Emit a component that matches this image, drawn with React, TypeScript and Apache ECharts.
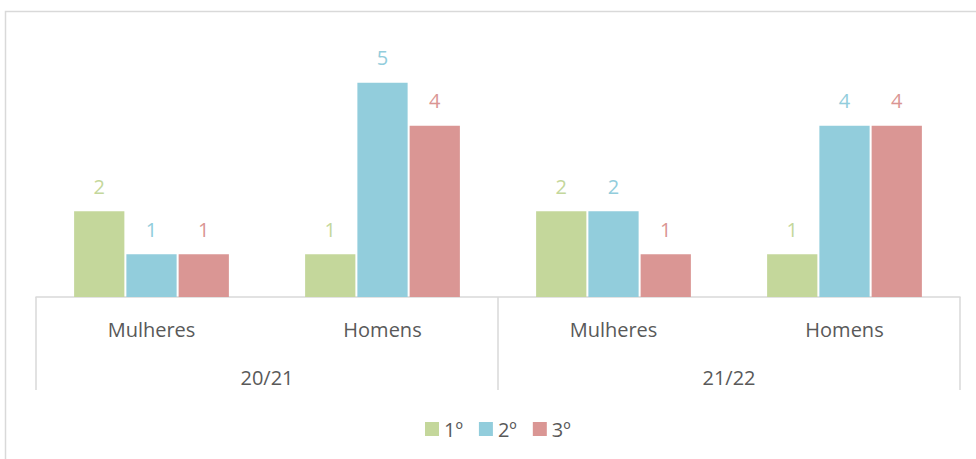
import React, { useEffect, useRef } from "react";
import * as echarts from "echarts";

const subCategories = ["Mulheres", "Homens", "Mulheres", "Homens"];
const years = ["20/21", "21/22"];
const seriesNames = ["1º", "2º", "3º"];
const first = [2, 1, 2, 1];
const second = [1, 5, 2, 4];
const third = [1, 4, 1, 4];
const colors = ["#C4D79B", "#92CDDC", "#DA9694"];

export default function App() {
  const ref = useRef<HTMLDivElement>(null);
  useEffect(() => {
    document.body.style.margin = "0";
    const chart = echarts.init(ref.current!, null, { renderer: "svg" });
    const font = "'Open Sans', sans-serif";
    const values = [first, second, third];
    chart.setOption({
      animation: false,
      backgroundColor: "#ffffff",
      textStyle: { fontFamily: font },
      graphic: [
        {
          type: "rect",
          shape: { x: 5.5, y: 11.5, width: 1000, height: 500 },
          style: { fill: "none", stroke: "#d9d9d9", lineWidth: 1.5 },
          silent: true,
        },
      ],
      legend: {
        data: seriesNames,
        top: 414,
        left: 420,
        itemWidth: 14,
        itemHeight: 14,
        itemGap: 16,
        icon: "rect",
        textStyle: { fontSize: 20, color: "#595959", fontFamily: font },
      },
      grid: { left: 36, right: 16, top: 40, bottom: 162, containLabel: false },
      xAxis: [
        {
          type: "category",
          data: subCategories,
          position: "bottom",
          axisLine: { show: true, lineStyle: { color: "#d9d9d9", width: 1.5 } },
          axisTick: { show: false },
          axisLabel: { fontSize: 20, color: "#595959", margin: 22, fontFamily: font },
        },
        {
          type: "category",
          data: years,
          position: "bottom",
          offset: 0,
          axisLine: { show: false },
          axisTick: {
            show: true,
            length: 93,
            inside: false,
            interval: 0,
            lineStyle: { color: "#d9d9d9", width: 1.5 },
          },
          axisLabel: { fontSize: 20, color: "#595959", margin: 70, fontFamily: font },
        },
      ],
      yAxis: { type: "value", min: 0, max: 6, show: false, splitLine: { show: false } },
      series: seriesNames.map((name, i) => ({
        name,
        type: "bar",
        xAxisIndex: 0,
        data: values[i],
        itemStyle: { color: colors[i] },
        barGap: "4%",
        barCategoryGap: "33%",
        label: {
          show: true,
          position: "top",
          distance: 15,
          fontSize: 20,
          color: colors[i],
          fontFamily: font,
        },
      })),
    });
    return () => chart.dispose();
  }, []);
  return <div ref={ref} style={{ position: "absolute", left: 0, top: 0, width: 976, height: 459 }} />;
}
